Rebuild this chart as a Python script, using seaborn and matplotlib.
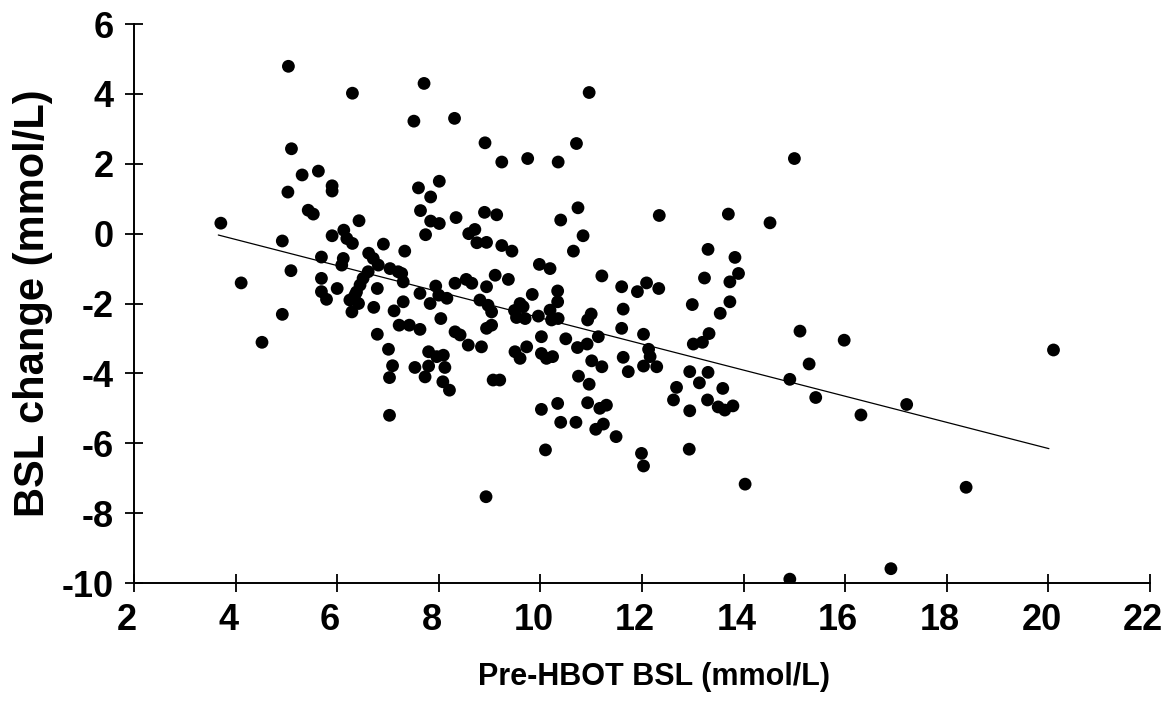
import numpy as np
import pandas as pd
import matplotlib.pyplot as plt
import matplotlib.transforms as mtransforms
import seaborn as sns

# valores (mmol/L)
pre_bsl = [
    5.04, 5.10, 5.31, 5.63, 5.03, 5.43, 5.53, 3.71, 5.90, 5.90,
    5.90, 4.92, 5.69, 5.09, 4.11, 5.69, 5.69, 5.79, 4.92, 4.52,
    6.30, 7.71, 7.51, 8.31, 8.91, 9.24, 7.60, 8.01, 7.84, 7.64,
    7.84, 8.01, 8.34, 8.90, 9.14, 6.43, 6.13, 6.19, 6.30, 6.91,
    7.33, 6.62, 7.74, 8.59, 8.71, 8.75, 8.94, 9.24, 9.44,
    6.12, 6.09, 6.71, 6.81, 7.04, 7.20, 7.27, 6.61, 7.30, 6.51,
    6.45, 6.38, 6.35, 6.00, 6.25, 6.42, 6.29, 6.79, 6.72, 7.30,
    7.12, 7.63, 7.83, 7.94, 8.00, 8.16, 8.32, 8.54, 8.65, 8.94,
    9.11, 9.37, 8.81, 8.97, 9.04, 8.04, 7.22, 7.42, 7.63, 6.79,
    8.32, 8.42, 8.94, 9.04, 8.58, 8.84, 9.50, 7.01, 7.80, 7.96,
    8.09, 7.09, 7.53, 7.80, 8.12, 7.73, 7.03, 8.08, 8.21, 9.07,
    9.20, 7.03, 8.93,
    10.96, 10.71, 9.75, 10.35, 10.74, 10.40, 10.84, 12.34, 10.65, 13.30,
    9.98, 10.19, 11.21, 13.23, 11.60, 11.91, 12.09, 12.33, 10.34, 10.34,
    9.84, 12.99, 11.63, 9.60, 9.66, 9.49, 9.53, 9.70, 9.96, 10.19,
    10.22, 10.35, 11.00, 10.93, 11.60, 12.03, 10.02, 10.50, 11.14, 10.92,
    10.73, 9.73, 9.60, 10.02, 10.12, 10.24, 13.01, 13.19, 12.13, 12.16,
    12.03, 12.29, 11.63, 11.73, 11.01, 11.21, 12.94, 13.13, 13.30, 10.75,
    10.96, 12.68, 12.62, 13.29, 12.94, 10.02, 10.34, 10.93, 11.17, 11.30,
    10.40, 10.70, 11.09, 11.24, 11.49, 10.10, 11.99, 12.03, 12.93,
    15.00, 13.70, 14.52, 13.83, 13.90, 13.73, 13.73, 13.54, 13.32, 15.11,
    15.98, 15.29, 14.91, 13.59, 13.50, 13.63, 13.79, 15.42, 16.31, 14.03,
    14.91, 16.90, 17.21, 20.10, 18.38,
]
bsl_change = [
    4.79, 2.43, 1.68, 1.79, 1.19, 0.67, 0.56, 0.30, 1.37, 1.22,
    -0.06, -0.21, -0.67, -1.06, -1.41, -1.28, -1.66, -1.88, -2.31, -3.11,
    4.02, 4.30, 3.22, 3.30, 2.60, 2.05, 1.31, 1.50, 1.05, 0.66,
    0.36, 0.29, 0.46, 0.61, 0.54, 0.37, 0.10, -0.14, -0.28, -0.30,
    -0.50, -0.56, -0.03, 0.00, 0.12, -0.26, -0.25, -0.34, -0.50,
    -0.71, -0.90, -0.71, -0.90, -1.00, -1.09, -1.14, -1.09, -1.38, -1.28,
    -1.47, -1.67, -1.76, -1.57, -1.90, -2.00, -2.24, -1.57, -2.11, -1.95,
    -2.21, -1.71, -2.00, -1.50, -1.76, -1.85, -1.42, -1.31, -1.42, -1.52,
    -1.19, -1.31, -1.90, -2.05, -2.24, -2.43, -2.62, -2.62, -2.74, -2.88,
    -2.81, -2.90, -2.71, -2.62, -3.19, -3.24, -3.38, -3.31, -3.38, -3.52,
    -3.48, -3.78, -3.83, -3.79, -3.83, -4.10, -4.12, -4.24, -4.48, -4.19,
    -4.19, -5.20, -7.53,
    4.04, 2.58, 2.15, 2.05, 0.74, 0.39, -0.06, 0.52, -0.50, -0.45,
    -0.88, -1.00, -1.21, -1.27, -1.52, -1.66, -1.41, -1.57, -1.64, -1.95,
    -1.74, -2.03, -2.16, -2.00, -2.09, -2.20, -2.40, -2.43, -2.36, -2.19,
    -2.47, -2.43, -2.30, -2.47, -2.71, -2.88, -2.95, -3.01, -2.95, -3.16,
    -3.26, -3.24, -3.57, -3.43, -3.57, -3.52, -3.16, -3.11, -3.31, -3.52,
    -3.79, -3.81, -3.54, -3.95, -3.64, -3.81, -3.95, -4.27, -3.97, -4.08,
    -4.31, -4.40, -4.76, -4.76, -5.07, -5.03, -4.86, -4.84, -5.00, -4.91,
    -5.40, -5.40, -5.60, -5.45, -5.81, -6.19, -6.29, -6.65, -6.17,
    2.15, 0.56, 0.31, -0.68, -1.14, -1.38, -1.95, -2.28, -2.86, -2.79,
    -3.05, -3.73, -4.17, -4.43, -4.96, -5.05, -4.93, -4.69, -5.19, -7.17,
    -9.89, -9.59, -4.89, -3.33, -7.26,
]

# reta de regressão como aparece no gráfico original
fit_intercept = 1.33
fit_slope = -0.374
fit_range = [3.66, 20.01]

x_ticks = [2, 4, 6, 8, 10, 12, 14, 16, 18, 20, 22]
y_ticks = [6, 4, 2, 0, -2, -4, -6, -8, -10]

df = pd.DataFrame({'pre': pre_bsl, 'delta': bsl_change})
df_fit = pd.DataFrame({'pre': fit_range})
df_fit['delta'] = fit_intercept + fit_slope * df_fit['pre']

sns.set_style('ticks')
plt.rcParams['font.family'] = ['Liberation Sans', 'DejaVu Sans']
plt.rcParams['axes.unicode_minus'] = False
plt.rcParams['text.color'] = 'black'
plt.rcParams['xtick.color'] = 'black'
plt.rcParams['ytick.color'] = 'black'
plt.rcParams['axes.labelcolor'] = 'black'

fig = plt.figure(figsize=(11.68, 7.09), dpi=100)
ax = fig.add_axes([0.1147, 0.1777, 0.8699, 0.7884])

sns.scatterplot(data=df, x='pre', y='delta', s=85, color='black',
                edgecolor='none', ax=ax)
sns.lineplot(data=df_fit, x='pre', y='delta', color='black', linewidth=0.9, ax=ax)

ax.set_xlim(2, 22)
ax.set_ylim(-10, 6)
ax.set_xticks(x_ticks)
ax.set_yticks(y_ticks)
sns.despine(ax=ax)
ax.spines['left'].set_linewidth(1.4)
ax.spines['bottom'].set_linewidth(1.4)
ax.spines['left'].set_color('black')
ax.spines['bottom'].set_color('black')
ax.tick_params(direction='inout', length=13, width=1.3, labelsize=26, pad=8)
for lab in ax.get_xticklabels() + ax.get_yticklabels():
    lab.set_fontweight('bold')

# os rótulos do eixo x ficam um pouco à esquerda dos traços no original
shift = mtransforms.ScaledTranslation(-7 / 100, 0, fig.dpi_scale_trans)
for lab in ax.get_xticklabels():
    lab.set_transform(lab.get_transform() + shift)

ax.set_xlabel('Pre-HBOT BSL (mmol/L)', fontsize=22, fontweight='bold', labelpad=17)
ax.xaxis.label.set_x(0.512)
ax.set_ylabel('BSL change (mmol/L)', fontsize=30, fontweight='bold', labelpad=6)

fig.savefig('out.png', dpi=100)
plt.close(fig)
